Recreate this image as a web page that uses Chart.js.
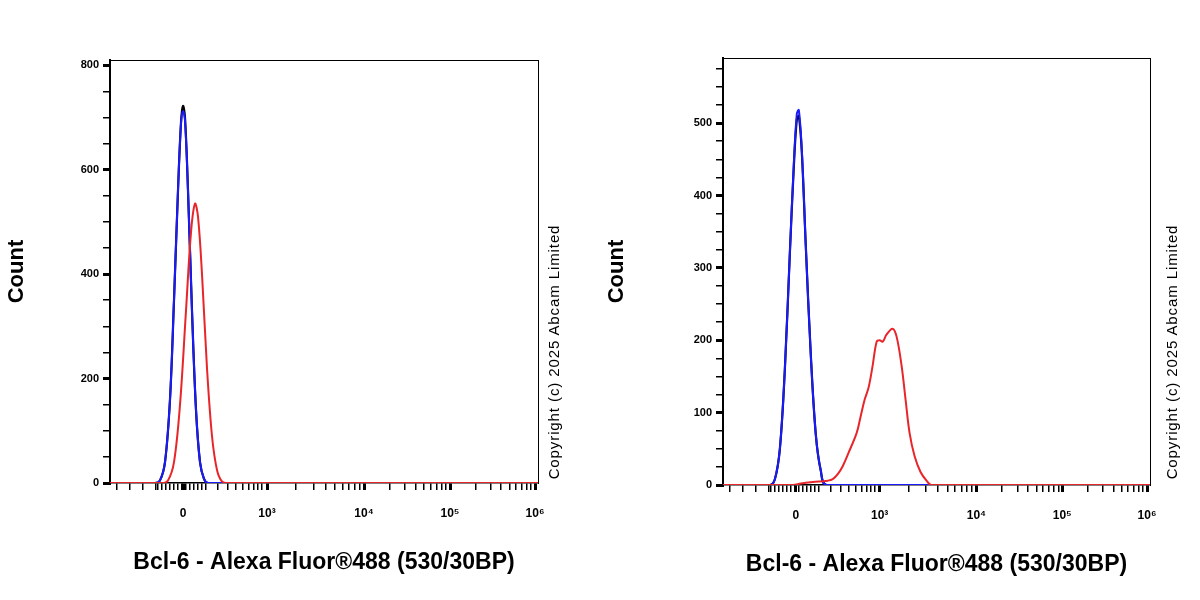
<!DOCTYPE html>
<html lang="en">
<head>
<meta charset="UTF-8">
<title>Bcl-6 histograms</title>
<script src="https://cdn.jsdelivr.net/npm/chart.js"></script>
<style>
  body { margin: 0; background: #fff; font-family: "Liberation Sans", Arial, sans-serif; }
  .wrap { position: relative; width: 1200px; height: 600px; }
  .panel { position: absolute; top: 0; width: 600px; height: 600px; }
  .copy { position: absolute; font-size: 15px; letter-spacing: 0.9px; color: #000; white-space: nowrap;
          width: 280px; text-align: center; height: 18px; line-height: 18px;
          transform: rotate(-90deg); transform-origin: center; }
</style>
<script>
// x positions are channel offsets along the display axis (0..428)
const xMajorPos = [73, 157, 254, 340, 425];
const xMajorLabels = ['0', '10³', '10⁴', '10⁵', '10⁶'];

// left panel
const leftBlack = [[0,0],[45,0],[50,5],[55,40],[60,160],[64,350],[68,560],[71,690],[73,722],[75,700],[78,560],[82,330],[86,140],[90,40],[94,8],[98,0],[428,0]];
const leftBlue  = [[0,0],[45,0],[50,5],[55,40],[60,160],[64,350],[68,560],[71,688],[73,712],[75,694],[78,560],[82,330],[86,140],[90,40],[94,8],[98,0],[428,0]];
const leftRed   = [[0,0],[52,0],[58,5],[64,40],[70,150],[76,330],[81,480],[85,535],[88,510],[92,400],[97,220],[102,90],[107,25],[112,3],[118,0],[428,0]];

// right panel
const rightBlack = [[0,0],[47,0],[52,8],[57,50],[62,160],[67,320],[71,440],[74,505],[76,510],[79,460],[83,330],[88,180],[93,70],[98,20],[104,0],[428,0]];
const rightBlue  = [[0,0],[47,0],[52,8],[57,50],[62,160],[67,320],[71,445],[74,513],[76,518],[79,463],[83,330],[88,180],[93,70],[98,20],[104,0],[428,0]];
const rightRed   = [[0,0],[70,0],[78,2],[90,4],[105,6],[110,8],[115,15],[120,26],[126,45],[134,72],[138,95],[142,118],[146,135],[150,165],[154,198],[157,200],[160,198],[164,208],[170,216],[174,205],[179,165],[183,118],[187,72],[192,40],[198,18],[204,6],[209,0],[428,0]];

const leftMax = 810, leftStep = 50, leftLabelEvery = 200;
const rightMax = 590, rightStep = 25, rightLabelEvery = 100;
</script>
</head>
<body>
<div class="wrap">
  <div class="panel" style="left:0"><canvas id="c1" width="600" height="600"></canvas></div>
  <div class="panel" style="left:600px"><canvas id="c2" width="600" height="600"></canvas></div>
  <div class="copy" style="left:414px; top:343px;">Copyright (c) 2025 Abcam Limited</div>
  <div class="copy" style="left:1032px; top:343px;">Copyright (c) 2025 Abcam Limited</div>
</div>
<script>
function xTickList() {
  const t = [];
  // evenly spaced ticks left of zero
  for (let p = 7; p < 48; p += 13) t.push({value: p});
  // dense ticks around zero
  for (let p = 48; p <= 98; p += 4) t.push({value: p});
  for (const p of [108, 118, 126, 133, 139, 144, 148, 152]) t.push({value: p});
  // log-spaced minor ticks within decades
  for (let d = 1; d < xMajorPos.length - 1; d++) {
    const a = xMajorPos[d], b = xMajorPos[d + 1];
    for (let k = 2; k <= 9; k++) t.push({value: a + (b - a) * Math.log10(k)});
  }
  xMajorPos.forEach(p => t.push({value: p}));
  return t.sort((a, b) => a.value - b.value);
}

function line(points, color, w) {
  return {
    data: points.map(p => ({x: p[0], y: p[1]})),
    borderColor: color, borderWidth: w, pointRadius: 0, tension: 0.35, fill: false
  };
}

function makeChart(id, sets, yMax, yStep, labelEvery, pad) {
  const isMajor = v => xMajorPos.some(p => Math.abs(p - v) < 0.01);
  new Chart(document.getElementById(id), {
    type: 'line',
    data: { datasets: sets },
    options: {
      responsive: false, animation: false,
      layout: { padding: { top: pad.top, right: pad.right, left: 0, bottom: 600 - pad.top - pad.plotH - pad.xh } },
      plugins: { legend: { display: false }, tooltip: { enabled: false } },
      scales: {
        x: {
          type: 'linear', min: 0, max: 428,
          afterBuildTicks: s => { s.ticks = xTickList(); },
          afterFit: s => { s.height = pad.xh; },
          grid: { drawOnChartArea: false, tickLength: 7, color: '#000',
                  lineWidth: c => (c.tick && isMajor(c.tick.value)) ? 3 : 1.5 },
          border: { color: '#000', width: 1.5 },
          ticks: { autoSkip: false, maxRotation: 0, color: '#000',
                   font: { family: 'Liberation Sans', size: 12, weight: 'bold' }, padding: 16,
                   callback: v => { const i = xMajorPos.findIndex(p => Math.abs(p - v) < 0.01); return i >= 0 ? xMajorLabels[i] : ''; } },
          title: { display: true, text: 'Bcl-6 - Alexa Fluor®488 (530/30BP)', color: '#000',
                   font: { family: 'Liberation Sans', size: 23, weight: 'bold' }, padding: { top: 4 } }
        },
        y: {
          min: 0, max: yMax,
          afterBuildTicks: s => { const t = []; for (let v = 0; v <= yMax; v += yStep) t.push({value: v}); s.ticks = t; },
          afterFit: s => { s.width = pad.yw; },
          grid: { drawOnChartArea: false, tickLength: 7, color: '#000',
                  lineWidth: c => (c.tick && c.tick.value % labelEvery === 0) ? 3 : 1.5 },
          border: { color: '#000', width: 2 },
          ticks: { autoSkip: false, color: '#000', padding: 4,
                   font: { family: 'Liberation Sans', size: 11, weight: 'bold' },
                   callback: v => v % labelEvery === 0 ? String(v) : '' },
          title: { display: true, text: 'Count', color: '#000',
                   font: { family: 'Liberation Sans', size: 22, weight: 'bold' }, padding: { bottom: 50 } }
        },
        x2: { position: 'top', min: 0, max: 428, grid: { display: false }, ticks: { display: false },
              afterFit: s => { s.height = 0; }, border: { color: '#000', width: 1 } },
        y2: { position: 'right', min: 0, max: yMax, grid: { display: false }, ticks: { display: false },
              afterFit: s => { s.width = 0; }, border: { color: '#000', width: 1 } }
      }
    }
  });
}

makeChart('c1', [line(leftRed, '#e8262a', 2), line(leftBlue, '#1a1aff', 2), line(leftBlack, '#000', 2.2)],
          leftMax, leftStep, leftLabelEvery, { top: 60, right: 62, xh: 97, yw: 110, plotH: 423 });
makeChart('c2', [line(rightRed, '#e8262a', 2), line(rightBlue, '#1a1aff', 2), line(rightBlack, '#000', 2.2)],
          rightMax, rightStep, rightLabelEvery, { top: 58, right: 50, xh: 97, yw: 123, plotH: 427 });
</script>
</body>
</html>
